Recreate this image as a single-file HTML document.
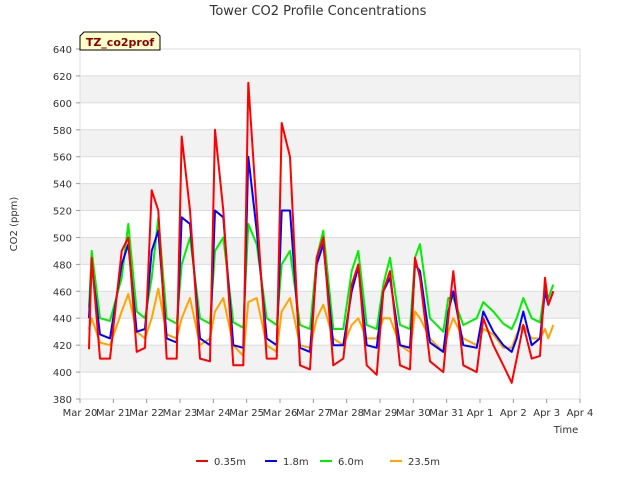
<!DOCTYPE html>
<html><head><meta charset="utf-8"><style>
body{margin:0;background:#fff;font-family:"Liberation Sans","DejaVu Sans",sans-serif}
svg text{font-family:"DejaVu Sans","Liberation Sans",sans-serif}
</style></head><body>
<svg id="chart" width="640" height="480" xmlns="http://www.w3.org/2000/svg">
<rect width="640" height="480" fill="#fff"/>
<text x="318" y="15" text-anchor="middle" font-size="13" fill="#333">Tower CO2 Profile Concentrations</text>
<g id="grid"></g>
<g id="series"></g>
<g id="axes"></g>
<g>
<path d="M80,50 L80,36 L84,32 L156,32 L160,36 L160,50 Z" fill="#ffffcc" stroke="#000"/>
<text x="120" y="46" text-anchor="middle" font-size="11" font-weight="bold" fill="#8b0000">TZ_co2prof</text>
</g>
<text transform="translate(17,224) rotate(-90)" text-anchor="middle" font-size="10" fill="#333">CO2 (ppm)</text>
<text x="566" y="433" text-anchor="middle" font-size="10" fill="#333">Time</text>
<g id="legend"></g>
</svg>
<script>
const times=[0.27,0.35,0.6,0.9,1.25,1.45,1.7,1.95,2.15,2.35,2.6,2.9,3.05,3.3,3.6,3.9,4.05,4.3,4.6,4.9,5.05,5.3,5.6,5.9,6.05,6.3,6.6,6.9,7.1,7.3,7.6,7.9,8.15,8.35,8.6,8.9,9.1,9.3,9.6,9.9,10.05,10.2,10.5,10.9,11.05,11.2,11.5,11.9,12.1,12.4,12.7,12.95,13.1,13.3,13.55,13.8,13.95,14.05,14.2];
const red=[417,485,410,410,490,500,415,418,535,520,410,410,575,520,410,408,580,520,405,405,615,520,410,410,585,560,405,402,485,500,405,410,465,480,405,398,460,475,405,402,485,470,408,400,440,475,405,400,440,420,405,392,410,435,410,412,470,450,460];
const blue=[440,480,428,425,480,495,430,432,490,505,425,422,515,510,425,420,520,515,420,418,560,505,425,420,520,520,418,415,480,495,420,420,460,478,420,418,460,470,420,418,480,475,422,415,445,460,420,418,445,430,420,415,425,445,420,425,460,450,460];
const green=[448,490,440,438,470,510,445,440,470,515,440,436,480,500,440,436,490,500,437,433,510,495,440,435,480,490,435,432,485,505,432,432,475,490,435,432,465,485,435,432,485,495,440,430,455,455,435,440,452,445,436,432,440,455,440,437,462,455,465];
const orange=[432,440,422,420,445,458,430,425,440,462,428,425,440,455,420,425,445,455,420,412,452,455,420,415,445,455,420,418,440,450,425,420,435,440,425,425,440,440,420,415,445,440,425,415,430,440,425,420,432,428,418,418,428,435,425,425,432,425,435];
const yTicks=[380,400,420,440,460,480,500,520,540,560,580,600,620,640];
const xLabels=["Mar 20","Mar 21","Mar 22","Mar 23","Mar 24","Mar 25","Mar 26","Mar 27","Mar 28","Mar 29","Mar 30","Mar 31","Apr 1","Apr 2","Apr 3","Apr 4"];
const seriesNames=["0.35m","1.8m","6.0m","23.5m"];
const NS="http://www.w3.org/2000/svg";
const L=80,R=580,T=49,B=399;
const x=d=>L+(d/15)*(R-L);
const y=v=>B-(v-380)/260*(B-T);
function mk(tag,attrs,parent){const e=document.createElementNS(NS,tag);for(const k in attrs)e.setAttribute(k,attrs[k]);parent.appendChild(e);return e;}
const grid=document.getElementById('grid'),axes=document.getElementById('axes'),ser=document.getElementById('series'),leg=document.getElementById('legend');
for(let i=0;i<yTicks.length-1;i++){
  if(yTicks[i]%40===0){const r=mk('rect',{x:L,y:y(yTicks[i+1]),width:R-L,height:y(yTicks[i])-y(yTicks[i+1]),fill:'#f2f2f2'},grid);
  
  }
}
yTicks.forEach(v=>{
  const l=mk('line',{x1:L,x2:R,y1:y(v),y2:y(v),stroke:'#dcdcdc'},grid);
  
  
  mk('line',{x1:L-4,x2:L,y1:y(v),y2:y(v),stroke:'#999'},axes);
  const t=mk('text',{x:L-8,y:y(v)+4,'text-anchor':'end','font-size':10,fill:'#333'},axes);
  
  
  t.textContent=v;
});
mk('line',{x1:R,x2:R,y1:T,y2:B,stroke:'#dcdcdc'},grid);
mk('line',{x1:L,x2:L,y1:T,y2:B,stroke:'#dcdcdc'},grid);
xLabels.forEach((s,i)=>{
  mk('line',{x1:x(i),x2:x(i),y1:B,y2:B+4,stroke:'#999'},axes);
  const t=mk('text',{x:x(i),y:B+17,'text-anchor':'middle','font-size':10,fill:'#333'},axes);
  
  
  t.textContent=s;
});
const colors=['#ff0000','#0000ff','#00ee00','#ffa500'];
const data=[red,blue,green,orange];
[3,2,1,0].forEach(k=>{
  const d=data[k].map((v,i)=>(i?'L':'M')+x(times[i]).toFixed(1)+','+y(v).toFixed(1)).join(' ');
  const p=mk('path',{d:d,fill:'none',stroke:colors[k],'stroke-width':2,'stroke-linejoin':'round'},ser);
  
  
});
const lx=[196,265,320,390];
seriesNames.forEach((s,k)=>{
  const g=mk('g',{},leg);
  
  
  mk('line',{x1:lx[k],x2:lx[k]+12,y1:461,y2:461,stroke:colors[k],'stroke-width':2},g);
  const t=mk('text',{x:lx[k]+18,y:465,'font-size':10,fill:'#333'},g);
  t.textContent=s;
});
</script>
</body></html>
